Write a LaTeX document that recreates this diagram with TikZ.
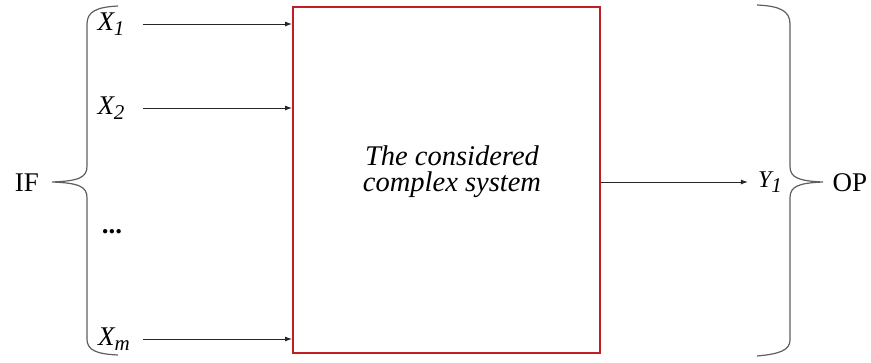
\documentclass[tikz,border=0pt]{standalone}
\usepackage{fontspec}
\setmainfont{Liberation Serif}
\usetikzlibrary{calc, arrows.meta, positioning}
\definecolor{boxred}{RGB}{192,30,36}
\definecolor{bracegray}{RGB}{95,95,95}
\tikzstyle{inlabel} = [font=\fontsize{27}{30}\selectfont\itshape, inner sep=0pt]
\tikzstyle{sidelabel} = [font=\fontsize{27}{30}\selectfont, inner sep=0pt]
\tikzstyle{signal} = [-{Latex[length=7pt,width=5pt]}, line width=0.9pt, black!85]
\tikzstyle{bracket} = [line width=1.2pt, bracegray]
\newcommand{\lowidx}[1]{\raisebox{-0.2em}{\fontsize{21}{24}\selectfont #1}}

\begin{document}
\begin{tikzpicture}[x=1pt, y=-1pt]
        \useasboundingbox (0,0) rectangle (871,362);
        \node[rectangle, draw=boxred, line width=2pt, minimum width=307pt, minimum height=346pt, inner sep=0pt] at (446.5,180) (system) {};
        \node[font=\fontsize{28.5}{26}\selectfont\itshape, align=center] at (452,172) (systemtext) {The considered\\complex system};

        \node[inlabel] at (111,24) (x1) {X\lowidx{1}};
        \node[inlabel] at (111,108) (x2) {X\lowidx{2}};
        \node[sidelabel] at (112,232) (dots) {\textbf{...}};
        \node[inlabel] at (114,339) (xm) {X\lowidx{m}};
        \node[sidelabel] at (27,183) (if) {IF};

        \node[inlabel, font=\fontsize{24}{26}\selectfont\itshape] at (770,182) (y1) {Y\lowidx{1}};
        \node[sidelabel] at (850,183) (op) {OP};

        \coordinate (instart) at (143,0);
        \draw[signal] (x1 -| instart) -- (x1 -| system.west);
        \draw[signal] (x2 -| instart) -- (x2 -| system.west);
        \draw[signal] (xm -| instart) -- (xm -| system.west);
        \draw[signal] (y1 -| system.east) -- ([xshift=-10pt]y1.west);

        % braces
        \draw[bracket] (118,6) .. controls (96,7) and (87,12) .. (87,24) -- (87,166) .. controls (87,177) and (80,181) .. (52,182) .. controls (80,183) and (87,187) .. (87,198) -- (87,339) .. controls (87,350) and (96,354) .. (118,355);
        \draw[bracket] (757,5) .. controls (780,6) and (790,11) .. (790,24) -- (790,166) .. controls (790,177) and (797,181) .. (823,182) .. controls (797,183) and (790,187) .. (790,198) -- (790,340) .. controls (790,350) and (780,354) .. (757,356);
    \end{tikzpicture}
\end{document}
